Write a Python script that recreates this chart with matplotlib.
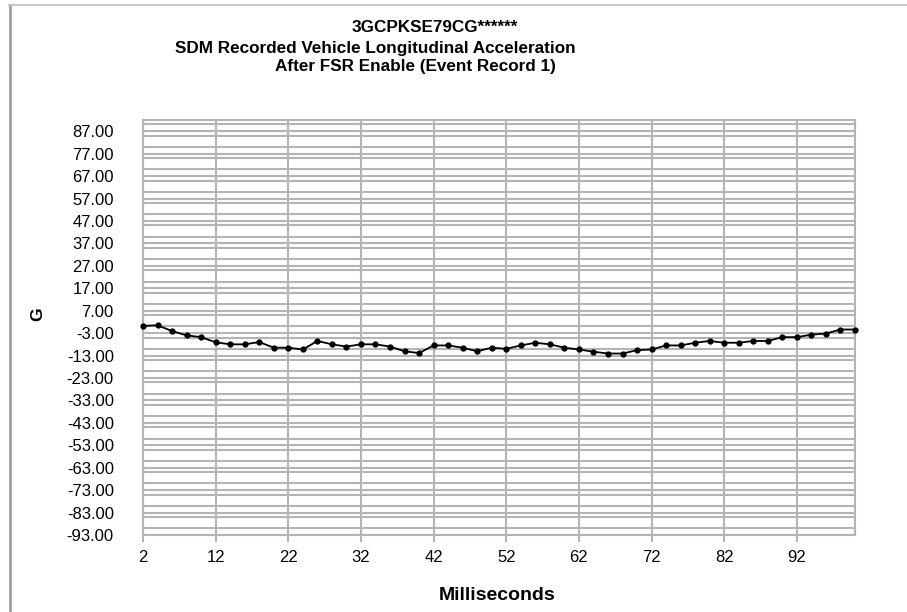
import numpy as np
import matplotlib
matplotlib.use("Agg")
from matplotlib import pyplot as plt
from matplotlib.lines import Line2D
from matplotlib.ticker import MultipleLocator

plt.rcParams["font.family"] = ["Liberation Sans", "DejaVu Sans"]

# SDM event record 1, 2 ms steps
ms = list(range(2, 101, 2))
g_accel = [
    0.2, 0.5, -2.1, -4.0, -4.8, -7.1, -8.0, -8.0, -7.0, -9.5,
    -9.5, -10.3, -6.5, -8.0, -9.0, -8.0, -8.0, -9.0, -11.1, -11.9,
    -8.5, -8.5, -9.5, -11.1, -9.5, -10.0, -8.5, -7.3, -8.0, -9.5,
    -10.3, -11.3, -12.1, -12.1, -10.6, -10.3, -8.5, -8.5, -7.3, -6.5,
    -7.3, -7.3, -6.5, -6.5, -4.8, -4.8, -3.7, -3.2, -1.4, -1.4,
]
x_ticks = list(range(2, 93, 10))
y_ticks = list(range(-93, 88, 10))

title_lines = [
    "3GCPKSE79CG******",
    "SDM Recorded Vehicle Longitudinal Acceleration",
    "After FSR Enable (Event Record 1)",
]

W, H = 907, 612
fig = plt.figure(figsize=(W / 100, H / 100), dpi=100)
ax = fig.add_axes([143 / W, 1 - 535 / H, (855 - 143) / W, (535 - 120) / H])

grid_c = "#b4b4b4"
ax.set_xlim(2, 100)
ax.set_ylim(-93, 92)
ax.set_xticks(x_ticks)
ax.set_yticks(y_ticks)
ax.set_xticklabels([str(t) for t in x_ticks], fontsize=12)
ax.set_yticklabels([f"{t:.2f}" for t in y_ticks], fontsize=12)
ax.yaxis.set_minor_locator(MultipleLocator(5))
ax.tick_params(axis="x", length=5, width=1.5, color=grid_c, pad=6)
ax.tick_params(axis="y", which="both", length=0, pad=21)
ax.grid(axis="x", color=grid_c, linewidth=1.5)
ax.grid(axis="y", which="both", color=grid_c, linewidth=1.5)
ax.set_axisbelow(True)
for s in ax.spines.values():
    s.set_color(grid_c)
    s.set_linewidth(1.5)

ax.plot(ms, g_accel, color="black", linewidth=1.3, marker="o", markersize=3.5,
        clip_on=False, zorder=5)

# title, as laid out in the original
fig.text(435 / W, 1 - 28 / H, title_lines[0], ha="center", va="center",
         fontsize=12.3, fontweight="bold")
fig.text(375 / W, 1 - 48 / H, title_lines[1], ha="center", va="center",
         fontsize=12.3, fontweight="bold")
fig.text(415 / W, 1 - 67 / H, title_lines[2], ha="center", va="center",
         fontsize=12.3, fontweight="bold")

fig.text(497 / W, 1 - 596 / H, "Milliseconds", ha="center", va="center",
         fontsize=14, fontweight="bold")
fig.text(38 / W, 1 - 314 / H, "G", ha="center", va="center", rotation=90,
         fontsize=12.5, fontweight="bold")

# outer frame of the source chart
fig.add_artist(Line2D([9.5 / W, 9.5 / W], [0, 1 - 5 / H], transform=fig.transFigure,
                      color="#a0a0a0", linewidth=2))
fig.add_artist(Line2D([9 / W, 1], [1 - 5 / H, 1 - 5 / H], transform=fig.transFigure,
                      color="#c0c0c0", linewidth=1.2))

fig.savefig("out.png", dpi=100)
